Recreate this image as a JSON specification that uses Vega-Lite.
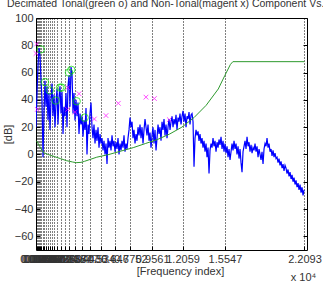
{
"$schema": "https://vega.github.io/schema/vega-lite/v6.json",
"width": 271, "height": 232,
"autosize": {"type": "none"},
"padding": {"left": 36, "top": 18, "right": 16, "bottom": 33},
"background": "white",
"title": {"text": "Decimated Tonal(green o) and Non-Tonal(magent x) Component Vs. Absolute Threshold", "anchor": "start", "frame": "group", "dx": -29, "offset": 3, "font": "Liberation Sans", "fontSize": 10.5, "fontWeight": "normal", "color": "#333"},
"config": {
  "view": {"stroke": "black", "strokeWidth": 1},
  "axis": {"labelFont": "Liberation Sans", "labelFontSize": 11, "labelColor": "#333", "titleFont": "Liberation Sans", "titleFontSize": 11, "titleFontWeight": "normal", "titleColor": "#333", "domainColor": "black", "tickColor": "black"}
},
"datasets": {
"spec": [
{"f":0,"db":20},{"f":82,"db":45},{"f":165,"db":65},{"f":247,"db":78},{"f":329,"db":72},{"f":412,"db":55},{"f":494,"db":40},{"f":576,"db":-2},{"f":658,"db":30},{"f":741,"db":54},
{"f":823,"db":35},{"f":905,"db":50},{"f":988,"db":25},{"f":1070,"db":45},{"f":1152,"db":18},{"f":1235,"db":40},{"f":1317,"db":52},{"f":1399,"db":28},{"f":1481,"db":44},{"f":1564,"db":20},
{"f":1646,"db":38},{"f":1728,"db":48},{"f":1811,"db":22},{"f":1893,"db":42},{"f":1975,"db":50},{"f":2058,"db":30},{"f":2140,"db":46},{"f":2222,"db":15},{"f":2304,"db":35},{"f":2387,"db":28},
{"f":2469,"db":45},{"f":2551,"db":20},{"f":2634,"db":50},{"f":2716,"db":58},{"f":2798,"db":35},{"f":2881,"db":64},{"f":2963,"db":60},{"f":3045,"db":30},{"f":3127,"db":45},{"f":3210,"db":25},
{"f":3292,"db":40},{"f":3374,"db":28},{"f":3457,"db":38},{"f":3539,"db":15},{"f":3621,"db":30},{"f":3704,"db":22},{"f":3786,"db":28},{"f":3868,"db":13},{"f":3950,"db":25},{"f":4033,"db":18},
{"f":4115,"db":34},{"f":4197,"db":0},{"f":4280,"db":22},{"f":4362,"db":15},{"f":4444,"db":30},{"f":4527,"db":38},{"f":4609,"db":20},{"f":4691,"db":12},{"f":4773,"db":22},{"f":4856,"db":8},
{"f":4938,"db":18},{"f":5020,"db":10},{"f":5103,"db":20},{"f":5185,"db":5},{"f":5267,"db":15},{"f":5350,"db":8},{"f":5432,"db":12},{"f":5514,"db":3},{"f":5596,"db":10},{"f":5679,"db":0},
{"f":5761,"db":8},{"f":5843,"db":-7},{"f":5926,"db":12},{"f":6008,"db":5},{"f":6090,"db":10},{"f":6173,"db":3},{"f":6255,"db":14},{"f":6337,"db":6},{"f":6419,"db":10},{"f":6502,"db":2},
{"f":6584,"db":9},{"f":6666,"db":4},{"f":6749,"db":12},{"f":6831,"db":0},{"f":6913,"db":8},{"f":6996,"db":3},{"f":7078,"db":10},{"f":7160,"db":5},{"f":7242,"db":14},{"f":7325,"db":2},
{"f":7407,"db":8},{"f":7489,"db":4},{"f":7572,"db":12},{"f":7654,"db":18},{"f":7736,"db":27},{"f":7819,"db":20},{"f":7901,"db":24},{"f":7983,"db":12},{"f":8065,"db":18},{"f":8148,"db":8},
{"f":8230,"db":15},{"f":8312,"db":10},{"f":8395,"db":20},{"f":8477,"db":14},{"f":8559,"db":22},{"f":8642,"db":12},{"f":8724,"db":20},{"f":8806,"db":8},{"f":8888,"db":18},{"f":8971,"db":26},
{"f":9053,"db":20},{"f":9135,"db":14},{"f":9218,"db":22},{"f":9300,"db":10},{"f":9382,"db":16},{"f":9465,"db":5},{"f":9547,"db":14},{"f":9629,"db":20},{"f":9711,"db":8},{"f":9794,"db":18},
{"f":9876,"db":3},{"f":9958,"db":12},{"f":10041,"db":22},{"f":10123,"db":15},{"f":10205,"db":20},{"f":10288,"db":10},{"f":10370,"db":24},{"f":10452,"db":18},{"f":10534,"db":26},{"f":10617,"db":14},
{"f":10699,"db":22},{"f":10781,"db":12},{"f":10864,"db":20},{"f":10946,"db":26},{"f":11028,"db":18},{"f":11111,"db":24},{"f":11193,"db":28},{"f":11275,"db":20},{"f":11357,"db":26},{"f":11440,"db":22},
{"f":11522,"db":29},{"f":11604,"db":18},{"f":11687,"db":27},{"f":11769,"db":24},{"f":11851,"db":30},{"f":11934,"db":22},{"f":12016,"db":28},{"f":12098,"db":32},{"f":12180,"db":24},{"f":12263,"db":30},
{"f":12345,"db":20},{"f":12427,"db":28},{"f":12510,"db":26},{"f":12592,"db":31},{"f":12674,"db":22},{"f":12757,"db":29},{"f":12839,"db":30},{"f":12921,"db":24},{"f":13003,"db":-9},{"f":13086,"db":12},
{"f":13168,"db":18},{"f":13250,"db":14},{"f":13333,"db":17},{"f":13415,"db":10},{"f":13497,"db":15},{"f":13580,"db":8},{"f":13662,"db":12},{"f":13744,"db":5},{"f":13826,"db":10},{"f":13909,"db":2},
{"f":13991,"db":8},{"f":14073,"db":-2},{"f":14156,"db":5},{"f":14238,"db":-14},{"f":14320,"db":3},{"f":14403,"db":8},{"f":14485,"db":5},{"f":14567,"db":12},{"f":14649,"db":6},{"f":14732,"db":10},
{"f":14814,"db":2},{"f":14896,"db":9},{"f":14979,"db":5},{"f":15061,"db":11},{"f":15143,"db":7},{"f":15226,"db":13},{"f":15308,"db":4},{"f":15390,"db":10},{"f":15472,"db":2},{"f":15555,"db":8},
{"f":15637,"db":1},{"f":15719,"db":6},{"f":15802,"db":-2},{"f":15884,"db":4},{"f":15966,"db":-4},{"f":16049,"db":2},{"f":16131,"db":8},{"f":16213,"db":3},{"f":16295,"db":10},{"f":16378,"db":4},
{"f":16460,"db":8},{"f":16542,"db":0},{"f":16625,"db":6},{"f":16707,"db":-3},{"f":16789,"db":4},{"f":16872,"db":-6},{"f":16954,"db":-13},{"f":17036,"db":2},{"f":17118,"db":6},{"f":17201,"db":10},
{"f":17283,"db":4},{"f":17365,"db":13},{"f":17448,"db":6},{"f":17530,"db":9},{"f":17612,"db":2},{"f":17695,"db":7},{"f":17777,"db":1},{"f":17859,"db":5},{"f":17941,"db":3},{"f":18024,"db":8},
{"f":18106,"db":2},{"f":18188,"db":6},{"f":18271,"db":-2},{"f":18353,"db":4},{"f":18435,"db":0},{"f":18518,"db":-4},{"f":18600,"db":2},{"f":18682,"db":-7},{"f":18764,"db":4},{"f":18847,"db":8},
{"f":18929,"db":6},{"f":19011,"db":12},{"f":19094,"db":5},{"f":19176,"db":8},{"f":19258,"db":2},{"f":19341,"db":4},{"f":19423,"db":-1},{"f":19505,"db":3},{"f":19587,"db":-2},{"f":19670,"db":1},
{"f":19752,"db":-3},{"f":19834,"db":-2},{"f":19917,"db":-6},{"f":19999,"db":-3},{"f":20081,"db":-8},{"f":20164,"db":-5},{"f":20246,"db":-10},{"f":20328,"db":-7},{"f":20410,"db":-12},{"f":20493,"db":-8},
{"f":20575,"db":-10},{"f":20657,"db":-14},{"f":20740,"db":-11},{"f":20822,"db":-16},{"f":20904,"db":-13},{"f":20987,"db":-18},{"f":21069,"db":-15},{"f":21151,"db":-20},{"f":21233,"db":-17},{"f":21316,"db":-22},
{"f":21398,"db":-19},{"f":21480,"db":-24},{"f":21563,"db":-21},{"f":21645,"db":-26},{"f":21727,"db":-22},{"f":21810,"db":-28},{"f":21892,"db":-24},{"f":21974,"db":-30},{"f":22056,"db":-26}
],
"ath": [
{"f":43,"db":10},{"f":300,"db":6},{"f":600,"db":1.5},{"f":1000,"db":0},{"f":1500,"db":-1.5},{"f":2000,"db":-3},{"f":2500,"db":-4.5},{"f":3000,"db":-5.5},{"f":3300,"db":-6},{"f":3700,"db":-5.8},
{"f":4000,"db":-5},{"f":4500,"db":-3.5},{"f":5000,"db":-2},{"f":6000,"db":0},{"f":7000,"db":2.5},{"f":8000,"db":5},{"f":9000,"db":8},{"f":10000,"db":11},{"f":11000,"db":15},{"f":12000,"db":20},
{"f":13000,"db":27},{"f":14000,"db":36},{"f":15000,"db":48},{"f":15547,"db":58},{"f":16000,"db":66},{"f":16200,"db":68},{"f":22093,"db":68}
],
"tonal": [
{"f":390,"db":77},{"f":740,"db":53},{"f":1130,"db":47},{"f":1620,"db":39.5},{"f":1975,"db":49},{"f":2115,"db":49},{"f":2716,"db":60},{"f":2905,"db":62},{"f":3350,"db":39},{"f":4005,"db":27}
],
"nontonal": [
{"f":0,"db":74},{"f":55,"db":81},{"f":110,"db":33},{"f":2600,"db":49},{"f":2600,"db":33},{"f":3210,"db":31},{"f":3540,"db":44.5},{"f":4800,"db":26},{"f":5760,"db":28.5},{"f":6775,"db":37.5},{"f":9050,"db":42},{"f":9740,"db":41},{"f":10970,"db":25.5}
]
},
"resolve": {"axis": {"x": "independent", "y": "independent"}},
"layer": [
{
  "data": {"name": "spec"},
  "mark": {"type": "line", "color": "#0000ff", "strokeWidth": 1.2, "clip": true},
  "encoding": {
    "x": {"field": "f", "type": "quantitative", "scale": {"domain": [0, 22300], "nice": false, "zero": false},
      "axis": {"orient": "bottom", "values": [43,129,258,345,431,560,689,818,947,1120,1292,1507,1766,2024,2369,2756,3187,3747,4436,5340,6460,7752,9561,12059,15547,22093],
        "labelExpr": "format(datum.value/10000, '.4~f')", "labelOverlap": false, "labelFlush": false, "labelBound": false, "labelDx": 4,
        "grid": true, "gridDash": [1,2], "gridColor": "black", "gridOpacity": 1, "gridWidth": 1,
        "tickSize": -4, "labelPadding": 7, "domain": false,
        "title": "[Frequency index]", "titleX": 144, "titleY": 21, "titleBaseline": "middle"}},
    "y": {"field": "db", "type": "quantitative", "scale": {"domain": [-70, 100], "nice": false, "zero": false},
      "axis": {"orient": "left", "values": [-60,-40,-20,0,20,40,60,80,100], "grid": false, "tickSize": -4, "labelPadding": 7, "domain": false,
        "title": "[dB]", "titleX": -28, "titleBaseline": "middle"}}
  }
},
{
  "data": {"name": "ath"},
  "mark": {"type": "line", "color": "#2e9a2e", "strokeWidth": 1},
  "encoding": {
    "x": {"field": "f", "type": "quantitative", "axis": null},
    "y": {"field": "db", "type": "quantitative",
      "axis": {"orient": "right", "values": [-60,-40,-20,0,20,40,60,80,100], "labels": false, "grid": false, "tickSize": -4, "domain": false, "title": null}}
  }
},
{
  "data": {"name": "tonal"},
  "mark": {"type": "point", "shape": "circle", "filled": false, "color": "#00e000", "size": 55, "strokeWidth": 1},
  "encoding": {
    "x": {"field": "f", "type": "quantitative",
      "axis": {"orient": "bottom", "labels": false, "ticks": false, "domain": false, "grid": false, "title": "x 10⁴", "titleX": 267, "titleY": 27, "titleBaseline": "middle"}},
    "y": {"field": "db", "type": "quantitative", "axis": null}
  }
},
{
  "data": {"name": "nontonal"},
  "mark": {"type": "point", "shape": "M-1,-1L1,1M-1,1L1,-1", "filled": false, "color": "#ff00ff", "size": 22, "strokeWidth": 1},
  "encoding": {
    "x": {"field": "f", "type": "quantitative", "axis": null},
    "y": {"field": "db", "type": "quantitative", "axis": null}
  }
}
]
}
